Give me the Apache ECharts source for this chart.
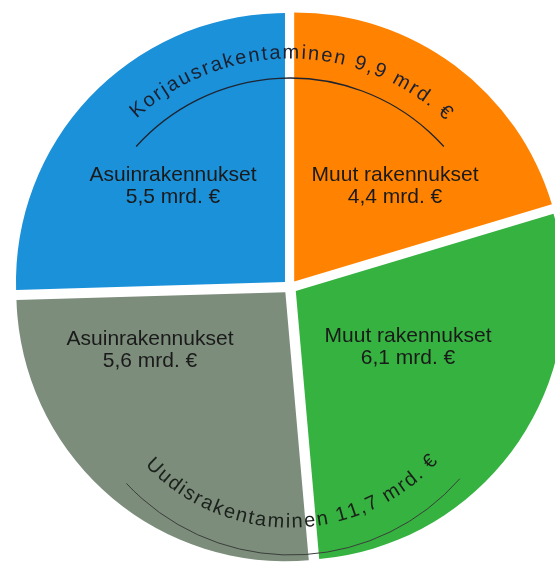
<!DOCTYPE html>
<html>
<head>
<meta charset="utf-8">
<script src="https://cdn.jsdelivr.net/npm/echarts@6/dist/echarts.min.js"></script>
<style>
html,body{margin:0;padding:0;background:#fff;}
#chart{width:555px;height:562px;}
</style>
</head>
<body>
<div id="chart"></div>
<script>
// ---- data ----
const categories = ['Muut rakennukset', 'Muut rakennukset', 'Asuinrakennukset', 'Asuinrakennukset'];
const values = [4.4, 6.1, 5.6, 5.5];
const groupNames = ['Korjausrakentaminen', 'Uudisrakentaminen'];
const groupValues = [9.9, 11.7];
const unit = 'mrd. €';

// ---- styles / layout ----
const colors = ['#ff8200', '#35b23f', '#7c8d7c', '#1b91d9'];
const FONT = '"Liberation Sans", Arial, sans-serif';
const CX = 290, CY = 287, R = 269;
const labelPos = [[395, 186], [408, 347], [150, 350], [173, 186]];

const fmt = v => v.toFixed(1).replace('.', ',');

const ctx = document.createElement('canvas').getContext('2d');
function arcText(str, cx, cy, r, tStartDeg, tEndDeg, fontSize, bottom, color) {
  ctx.font = fontSize + 'px ' + FONT;
  const chars = Array.from(str);
  const w = chars.map(c => ctx.measureText(c).width);
  const n = chars.length;
  const L = r * Math.abs(tEndDeg - tStartDeg) * Math.PI / 180;
  let base = 0;
  for (let j = 0; j < n - 1; j++) base += w[j];
  base += w[n - 1] / 2 - w[0] / 2;
  const s = (L - base) / (n - 1);
  const dir = tEndDeg > tStartDeg ? 1 : -1;
  const t0 = tStartDeg * Math.PI / 180;
  const els = [];
  let acc = 0;
  for (let i = 0; i < n; i++) {
    const d = acc + w[i] / 2 - w[0] / 2;
    acc += w[i] + s;
    if (chars[i] === ' ') continue;
    const t = t0 + dir * d / r;
    els.push({
      type: 'text', z: 100,
      x: cx + r * Math.sin(t),
      y: cy - r * Math.cos(t),
      rotation: bottom ? Math.PI - t : -t,
      silent: true,
      style: {
        text: chars[i], fill: color, font: fontSize + 'px ' + FONT,
        align: 'center', verticalAlign: 'middle'
      }
    });
  }
  return els;
}
function arcLine(cx, cy, r, aStartDeg, aEndDeg, color, lw) {
  return {
    type: 'arc', silent: true, z: 100,
    shape: { cx: cx, cy: cy, r: r, startAngle: aStartDeg * Math.PI / 180, endAngle: aEndDeg * Math.PI / 180, clockwise: true },
    style: { stroke: color, lineWidth: lw, fill: null }
  };
}
function sliceLabel(i) {
  return {
    type: 'text', z: 100, silent: true,
    x: labelPos[i][0], y: labelPos[i][1],
    style: {
      text: categories[i] + '\n' + fmt(values[i]) + ' ' + unit,
      fill: '#1a1a1a', font: '21px ' + FONT, lineHeight: 22,
      align: 'center', verticalAlign: 'middle'
    }
  };
}

const graphics = []
  .concat([arcLine(290, 285, 207, -138, -42, '#1f2430', 1.3)])
  .concat(arcText(groupNames[0] + ' ' + fmt(groupValues[0]) + ' ' + unit, 290, 285, 232, -41, 42, 20, false, '#1a2030'))
  .concat([arcLine(291, 330, 225, 41.4, 137, '#3a3f3a', 1)])
  .concat(arcText(groupNames[1] + ' ' + fmt(groupValues[1]) + ' ' + unit, 290, 328, 194, 224.5, 133.7, 20, true, '#1a201a'))
  .concat(values.map((v, i) => sliceLabel(i)));

const chart = echarts.init(document.getElementById('chart'), null, { renderer: 'canvas' });
chart.setOption({
  animation: false,
  backgroundColor: '#ffffff',
  series: [{
    type: 'pie',
    center: [CX, CY],
    radius: R,
    startAngle: 90,
    clockwise: true,
    selectedMode: 'multiple',
    selectedOffset: 7,
    silent: true,
    emphasis: { disabled: true },
    labelLine: { show: false },
    label: { show: false },
    data: values.map((v, i) => ({ value: v, name: categories[i] + ' ' + i, selected: true, itemStyle: { color: colors[i] } }))
  }],
  graphic: graphics
});
</script>
</body>
</html>
